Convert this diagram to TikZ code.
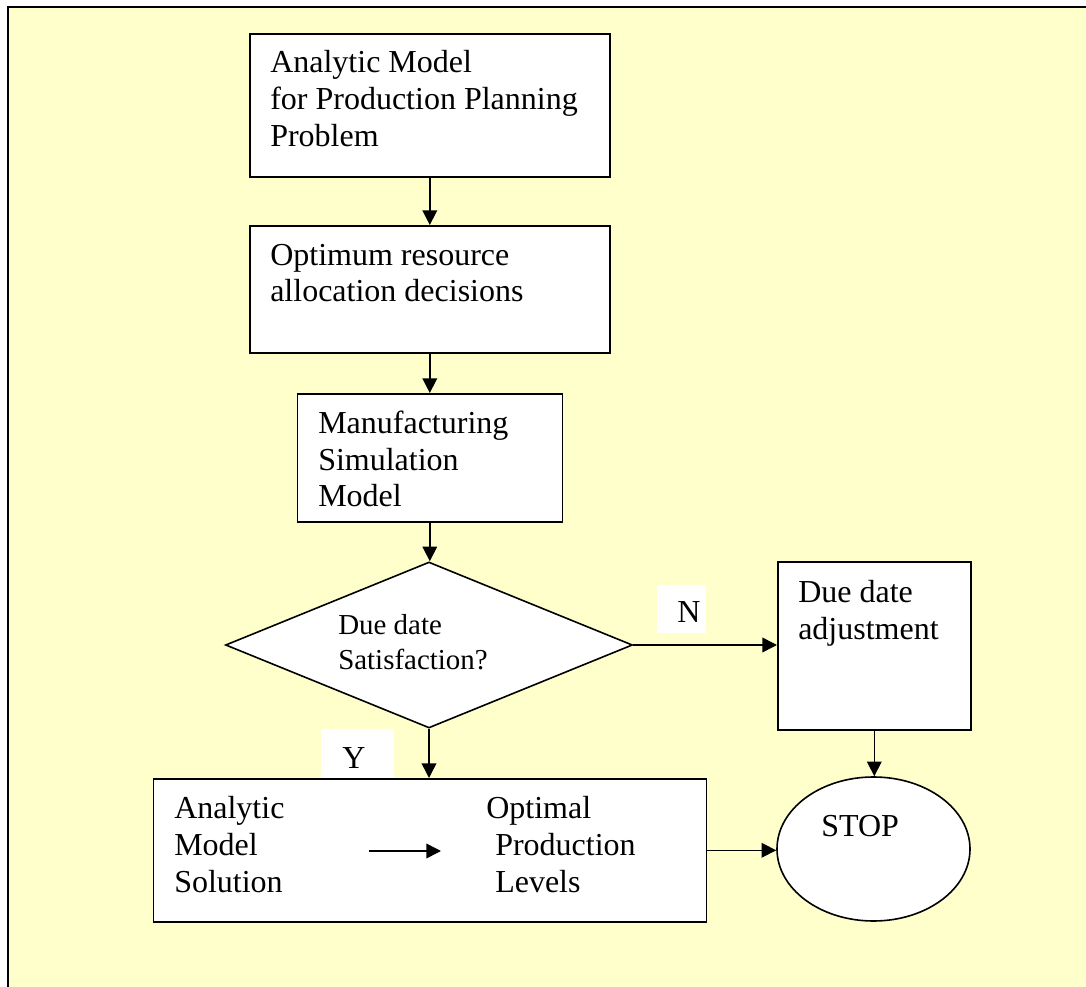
\documentclass[tikz,border=0pt]{standalone}
\usepackage{fontspec}
\setmainfont{Liberation Serif}
\usetikzlibrary{arrows.meta,shapes.geometric}
\definecolor{paper}{HTML}{FFFFCC}
\begin{document}
\begin{tikzpicture}[x=0.75pt,y=-0.75pt,
  flowbox/.style={draw, fill=white, line width=1.2pt, rectangle, inner sep=0pt, anchor=north west},
  txt/.style={anchor=base west, inner sep=0pt, align=left, font=\fontsize{24}{27.6}\selectfont},
  smalltxt/.style={anchor=base west, inner sep=0pt, align=left, font=\fontsize{21.7}{25.7}\selectfont},
  flow/.style={-{Triangle[length=11pt,width=11pt]}, line width=1.2pt},
  tag/.style={fill=white, inner sep=0pt}
]
\useasboundingbox (0,0) rectangle (1086,987);
% page and frame
\fill[white] (0,0) rectangle (1086,987);
\fill[paper] (8,7) rectangle (1090,991);
\draw[line width=1.5pt] (8,995) -- (8,7) -- (1095,7);

% boxes (positions are top-left corners)
\node[flowbox, minimum width=270pt, minimum height=107.25pt] (b1) at (249,33) {};
\node[flowbox, minimum width=270pt, minimum height=95.25pt] (b2) at (249,225) {};
\node[flowbox, minimum width=198.75pt, minimum height=96pt] (b3) at (296.5,393) {};
\node[draw, fill=white, line width=1.2pt, diamond, inner sep=0pt, aspect=2.45,
      minimum width=305.25pt, minimum height=124.5pt] (dia) at (429,645) {};
\node[flowbox, minimum width=144.75pt, minimum height=126pt] (b4) at (777,561) {};
\node[draw, fill=white, line width=1.2pt, ellipse, inner sep=0pt,
      minimum width=144.75pt, minimum height=108pt] (stop) at (873.5,849) {};
\node[flowbox, minimum width=414.75pt, minimum height=107.25pt] (b5) at (152.5,778) {};

% texts (anchored at the baseline of their last line)
\node[txt] (t1) at (270,146.5) {Analytic Model\\for Production Planning\\Problem};
\node[txt] (t2) at (270,302) {Optimum resource\\allocation decisions};
\node[txt] (t3) at (318,507) {Manufacturing\\Simulation\\Model};
\node[smalltxt] (td) at (338,669) {Due date\\Satisfaction?};
\node[txt] (t4) at (798,639) {Due date\\adjustment};
\node[txt] (ts) at (821,836) {STOP};
\node[txt] (t5a) at (174,892) {Analytic\\Model\\Solution};
\node[txt] (t5b) at (486,892) {Optimal\\\hspace*{6.75pt}Production\\\hspace*{6.75pt}Levels};

% connectors
\draw[flow] (b1.south) -- (b1.south |- b2.north);
\draw[flow] (b2.south) -- (b2.south |- b3.north);
\draw[flow] (b3.south) -- (b3.south |- dia.north);
\draw[flow] (dia.east) -- (dia.east -| b4.west);
\draw[flow] (b4.south) -- (b4.south |- stop.north);
\draw[flow] (dia.south) -- (dia.south |- b5.north);
\draw[flow] (b5.east) -- (b5.east -| stop.west);
\coordinate (ia) at (369,851);
\coordinate (ib) at (441,851);
\draw[flow] (ia) -- (ib);

% branch labels
\node[tag, minimum width=36.75pt, minimum height=36pt] (ntag) at (681.5,609) {};
\node[txt] (nt) at (677,623) {N};
\node[tag, minimum width=54.75pt, minimum height=37pt] (ytag) at (357.5,753.5) {};
\node[txt] (yt) at (342,768) {Y};
\end{tikzpicture}
\end{document}
